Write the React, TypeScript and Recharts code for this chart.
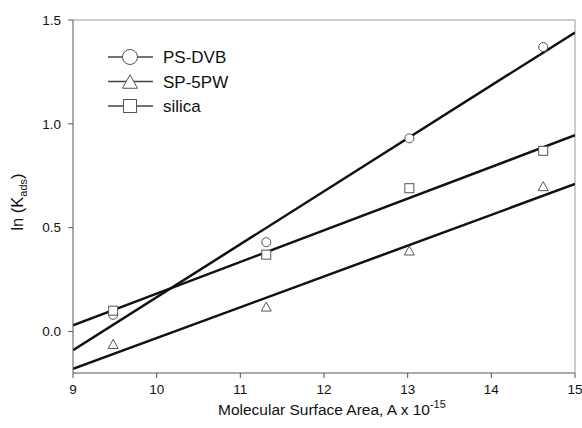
import {
  ComposedChart,
  Line,
  Scatter,
  XAxis,
  YAxis,
  ReferenceLine,
} from "recharts";

// molecular surface area (x 10^-15)
const areas = [9.48, 11.31, 13.02, 14.62];
const psDvb = [0.08, 0.43, 0.93, 1.37];
const sp5pw = [-0.06, 0.12, 0.39, 0.7];
const silica = [0.1, 0.37, 0.69, 0.87];

// regression lines, evaluated at the ends of the x range
const fitX = [9, 15];
const psDvbFit = [-0.09, 1.44];
const sp5pwFit = [-0.18, 0.71];
const silicaFit = [0.03, 0.945];

const xTicks = [9, 10, 11, 12, 13, 14, 15];
const yTicks = [0, 0.5, 1.0, 1.5];
const seriesNames = ["PS-DVB", "SP-5PW", "silica"];

const pts = (ys: number[]) => areas.map((x, i) => ({ x, y: ys[i] }));
const fit = (ys: number[]) => fitX.map((x, i) => ({ x, y: ys[i] }));

const FONT = "'Liberation Sans', Arial, sans-serif";

const Circle = (r: number) => (p: any) => (
  <circle cx={p.cx} cy={p.cy} r={r} fill="#fff" stroke="#555" strokeWidth={1} />
);
const Square = (s: number) => (p: any) => (
  <rect x={p.cx - s / 2} y={p.cy - s / 2} width={s} height={s} fill="#fff" stroke="#555" strokeWidth={1} />
);
const Triangle = (s: number) => (p: any) => {
  const h = s * 0.9;
  return (
    <path
      d={`M${p.cx},${p.cy - h / 2} L${p.cx + s / 2},${p.cy + h / 2} L${p.cx - s / 2},${p.cy + h / 2} Z`}
      fill="#fff"
      stroke="#555"
      strokeWidth={1}
    />
  );
};

const legendMarkers = [Circle(7.5), Triangle(15), Square(13)];

const LegendBox = () => (
  <svg width={140} height={80} style={{ position: "absolute", left: 108, top: 47 }}>
    {seriesNames.map((name, i) => {
      const y = 10 + i * 24.5;
      return (
        <g key={name}>
          <line x1={0} x2={45} y1={y} y2={y} stroke="#444" strokeWidth={1.5} />
          {legendMarkers[i]({ cx: 22, cy: y })}
          <text x={55} y={y + 6} fontSize={17} fontFamily={FONT} fill="#111">
            {name}
          </text>
        </g>
      );
    })}
  </svg>
);

const XLabel = () => (
  <text x={218} y={415} fontSize={15.5} fontFamily={FONT} fill="#111">
    Molecular Surface Area, A x 10
    <tspan dy={-7} fontSize={11}>-15</tspan>
  </text>
);

const YLabel = () => (
  <text
    transform="translate(23,202) rotate(-90)"
    textAnchor="middle"
    fontSize={16.5}
    fontFamily={FONT}
    fill="#111"
  >
    ln (K
    <tspan dy={4} fontSize={11}>ads</tspan>
    <tspan dy={-4}>)</tspan>
  </text>
);

const App = () => {
  return (
    <div style={{ position: "absolute", left: 0, top: 0, background: "#fff" }}>
      <ComposedChart width={582} height={428} margin={{ top: 20, right: 7, bottom: 25, left: 0 }}>
        <XAxis
          type="number"
          dataKey="x"
          domain={[9, 15]}
          ticks={xTicks}
          allowDataOverflow
          height={30}
          stroke="#555"
          tickSize={5}
          tickMargin={6}
          tick={{ fill: "#111", fontSize: 13.5, fontFamily: FONT }}
          label={{ content: () => <XLabel /> }}
        />
        <YAxis
          type="number"
          dataKey="y"
          domain={[-0.2, 1.5]}
          ticks={yTicks}
          allowDataOverflow
          width={73}
          stroke="#555"
          tickSize={5}
          tickMargin={7}
          tickFormatter={(v: number) => v.toFixed(1)}
          tick={{ fill: "#111", fontSize: 13.5, fontFamily: FONT }}
          label={{ content: () => <YLabel /> }}
        />
        <ReferenceLine y={1.5} stroke="#999" strokeWidth={1} />
        <ReferenceLine x={15} stroke="#999" strokeWidth={1} />
        <Line data={fit(psDvbFit)} dataKey="y" stroke="#111" strokeWidth={2.5} dot={false} isAnimationActive={false} />
        <Line data={fit(sp5pwFit)} dataKey="y" stroke="#111" strokeWidth={2.5} dot={false} isAnimationActive={false} />
        <Line data={fit(silicaFit)} dataKey="y" stroke="#111" strokeWidth={2.5} dot={false} isAnimationActive={false} />
        <Scatter name={seriesNames[0]} data={pts(psDvb)} shape={Circle(4.5)} isAnimationActive={false} />
        <Scatter name={seriesNames[1]} data={pts(sp5pw)} shape={Triangle(10)} isAnimationActive={false} />
        <Scatter name={seriesNames[2]} data={pts(silica)} shape={Square(9)} isAnimationActive={false} />
      </ComposedChart>
      <LegendBox />
    </div>
  );
};

export default App;
